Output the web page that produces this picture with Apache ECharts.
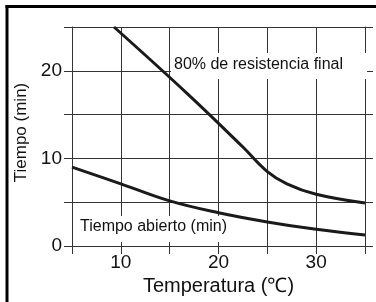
<!DOCTYPE html>
<html>
<head>
<meta charset="utf-8">
<script src="https://cdn.jsdelivr.net/npm/echarts@6/dist/echarts.min.js"></script>
<style>
  html, body { margin: 0; padding: 0; background: #fff; }
  #myCharts { width: 376px; height: 302px; }
</style>
</head>
<body>
<div id="myCharts"></div>
<script>
// temperatura (°C) / tiempo (min)
const resistTemps = [9.3, 16.8, 22.5, 25, 27, 30, 35];
const resistValues = [25, 17.4, 11.3, 8.5, 7.1, 5.9, 4.9];
const abiertoTemps = [5, 10, 15, 20, 25, 30, 35];
const abiertoValues = [9.0, 7.1, 5.15, 3.8, 2.75, 1.9, 1.25];
const xTickLabels = [10, 20, 30];
const yTickLabels = [0, 10, 20];

const font = "'Liberation Sans', Arial, sans-serif";
const lineColor = "#333";

function pairs(xs, ys) {
  return xs.map((x, i) => [x, ys[i]]);
}

const myCharts = echarts.init(document.getElementById("myCharts"));
let options = {
  animation: false,
  grid: {
    left: 72,
    right: 11,
    top: 27,
    bottom: 56
  },
  xAxis: [
    {
      type: "value",
      min: 5,
      max: 35,
      interval: 5,
      name: "Temperatura (℃)",
      nameLocation: "middle",
      nameGap: 30,
      nameTextStyle: { color: "#111", fontSize: 20, fontFamily: font },
      axisLine: { show: true, lineStyle: { color: lineColor, width: 1 } },
      axisTick: { show: true, length: 8, lineStyle: { color: lineColor } },
      axisLabel: {
        color: "#111",
        fontSize: 19,
        fontFamily: font,
        margin: 7,
        formatter: v => (xTickLabels.includes(v) ? String(v) : "")
      },
      splitLine: { show: true, lineStyle: { color: lineColor, width: 1 } }
    },
    {
      type: "value",
      position: "top",
      min: 5,
      max: 35,
      interval: 5,
      axisLine: { show: true, lineStyle: { color: lineColor, width: 1 } },
      axisTick: { show: true, length: 8, lineStyle: { color: lineColor } },
      axisLabel: { show: false },
      splitLine: { show: false }
    }
  ],
  yAxis: [
    {
      type: "value",
      min: 0,
      max: 25,
      interval: 5,
      name: "Tiempo (min)",
      nameLocation: "middle",
      nameGap: 35,
      nameTextStyle: { color: "#111", fontSize: 17, fontFamily: font, padding: [0, 0, 0, 8] },
      axisLine: { show: true, lineStyle: { color: lineColor, width: 1 } },
      axisTick: { show: true, length: 8, lineStyle: { color: lineColor } },
      axisLabel: {
        color: "#111",
        fontSize: 19,
        fontFamily: font,
        margin: 10,
        formatter: v => (yTickLabels.includes(v) ? String(v) : "")
      },
      splitLine: { show: true, lineStyle: { color: lineColor, width: 1 } }
    },
    {
      type: "value",
      position: "right",
      min: 0,
      max: 25,
      interval: 5,
      axisLine: { show: true, lineStyle: { color: lineColor, width: 1 } },
      axisTick: { show: true, length: 8, lineStyle: { color: lineColor } },
      axisLabel: { show: false },
      splitLine: { show: false }
    }
  ],
  graphic: [
    // marco (solo arriba e izquierda)
    { type: "rect", shape: { x: 5.5, y: 5, width: 371, height: 3 }, style: { fill: "#000" }, z: 10 },
    { type: "rect", shape: { x: 5.5, y: 5, width: 3, height: 297 }, style: { fill: "#000" }, z: 10 },
    // fondos blancos de las etiquetas
    { type: "rect", shape: { x: 171, y: 53, width: 196, height: 26 }, style: { fill: "#fff" }, z: 1 },
    { type: "rect", shape: { x: 75, y: 216, width: 153, height: 26 }, style: { fill: "#fff" }, z: 1 },
    {
      type: "text",
      left: 174,
      top: 57,
      z: 1,
      style: { text: "80% de resistencia final", fill: "#111", font: "16px " + font }
    },
    {
      type: "text",
      left: 80,
      top: 219,
      z: 1,
      style: { text: "Tiempo abierto (min)", fill: "#111", font: "16px " + font }
    }
  ],
  series: [
    {
      type: "line",
      data: pairs(resistTemps, resistValues),
      smooth: 0.4,
      showSymbol: false,
      z: 5,
      lineStyle: { color: "#1a1a1a", width: 3 }
    },
    {
      type: "line",
      data: pairs(abiertoTemps, abiertoValues),
      smooth: 0.4,
      showSymbol: false,
      z: 5,
      lineStyle: { color: "#1a1a1a", width: 3 }
    }
  ]
};
myCharts.setOption(options);
</script>
</body>
</html>
